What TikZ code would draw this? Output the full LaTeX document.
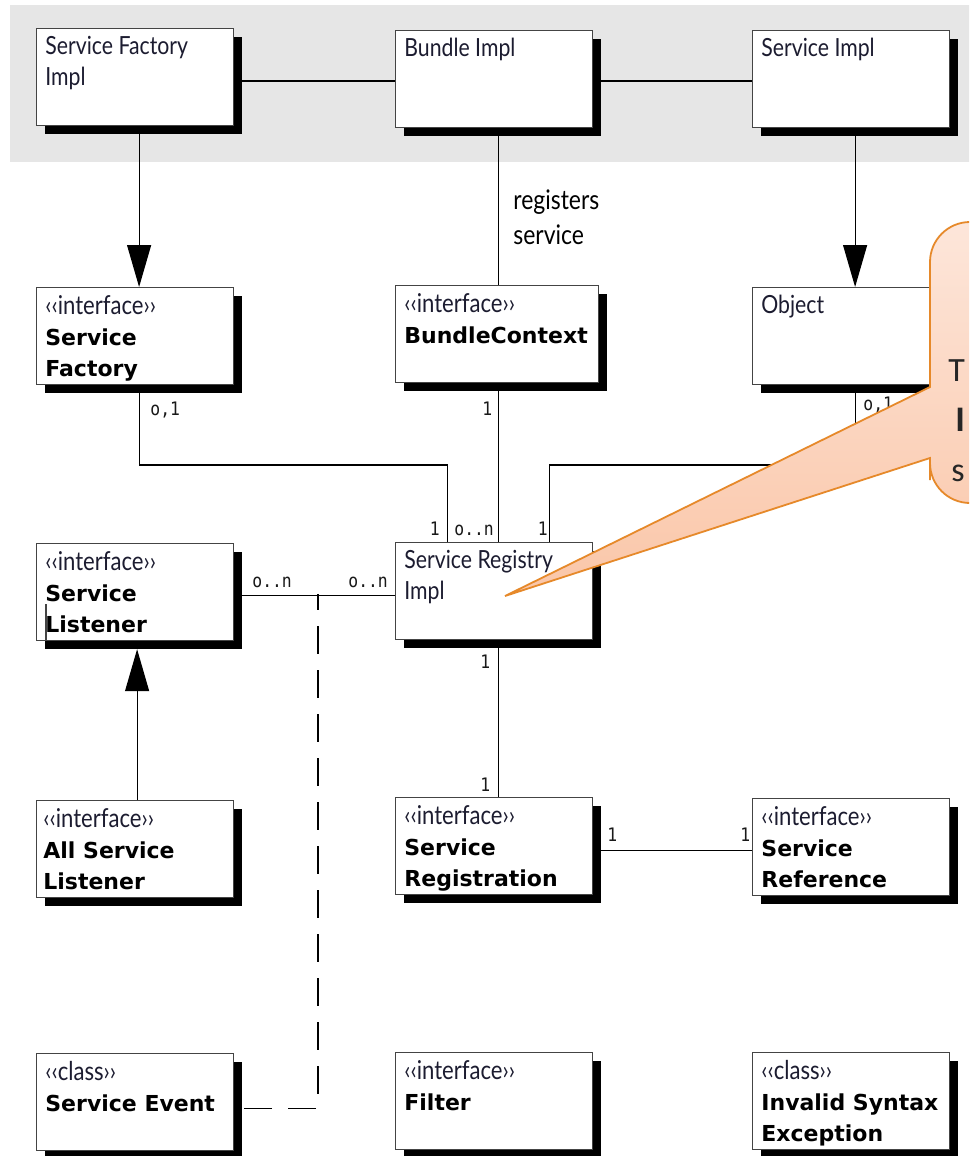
\documentclass[tikz,border=0pt]{standalone}
\usepackage{fontspec}
\setmainfont{Lato}[FakeStretch=0.85]
\newfontfamily\regf{Lato}[FakeStretch=0.85]
\newfontfamily\boldf{DejaVu Sans}
\newfontfamily\monof{DejaVu Sans Mono}[FakeStretch=0.88]
\newfontfamily\calf{Carlito}
\usetikzlibrary{arrows.meta,shadows,calc}
\definecolor{band}{HTML}{E6E6E6}
\definecolor{boxline}{HTML}{444444}
\definecolor{textblue}{HTML}{1C1C30}
\definecolor{calloutline}{HTML}{E6892A}
\definecolor{callouttop}{HTML}{FDE6DA}
\definecolor{calloutbot}{HTML}{FAC6A8}
\newcommand{\stereo}[1]{{\regf\fontsize{13}{15.5}\selectfont #1}}
\newcommand{\cname}[1]{{\color{black}\boldf\bfseries\fontsize{11}{15.5}\selectfont #1}}
\tikzset{
  umlbox/.style={draw=boxline, line width=0.6pt, fill=white, minimum width=98.5pt,
    minimum height=48.5pt, anchor=north west, inner sep=0pt,
    drop shadow={shadow xshift=4pt, shadow yshift=-4pt, opacity=1, fill=black}},
  boxtext/.style={anchor=north west, inner sep=0pt, align=left, text=textblue,
    font=\regf\fontsize{12.5}{15.5}\selectfont},
  conn/.style={draw=black, line width=0.6pt},
  inh/.style={conn, -{Triangle[length=21pt,width=12pt]}},
  mult/.style={inner sep=0pt, font=\monof\fontsize{9.3}{10}\selectfont, text=black!90},
  calltext/.style={anchor=base west, inner sep=0pt, font=\calf\fontsize{17}{20}\selectfont, text=black!85},
}
\begin{document}
\begin{tikzpicture}[x=0.5pt,y=-0.5pt]
\useasboundingbox (0,0) rectangle (969,1156);
\clip (0,0) rectangle (969,1156);
\fill[white] (0,0) rectangle (969,1156);
\fill[band] (10,5) rectangle (975,162);

% boxes
\node[umlbox] (sfi) at (36,28) {};
\node[umlbox] (bi) at (395,30) {};
\node[umlbox] (si) at (752,30) {};
\node[umlbox] (sf) at (36,287) {};
\node[umlbox, minimum width=101.5pt] (bc) at (395,285) {};
\node[umlbox] (obj) at (752,287) {};
\node[umlbox] (sl) at (36,543) {};
\node[umlbox] (sri) at (395,542) {};
\node[umlbox] (asl) at (36,800) {};
\node[umlbox] (sreg) at (395,797) {};
\node[umlbox] (sref) at (752,798) {};
\node[umlbox] (se) at (36,1053) {};
\node[umlbox] (flt) at (395,1052) {};
\node[umlbox] (ise) at (752,1052) {};

% box texts
\node[boxtext] (sfi-t) at ([xshift=4.5pt,yshift=-4pt]sfi.north west) {Service Factory\\Impl};
\node[boxtext] (bi-t) at ([xshift=4.5pt,yshift=-4pt]bi.north west) {Bundle Impl};
\node[boxtext] (si-t) at ([xshift=4.5pt,yshift=-4pt]si.north west) {Service Impl};
\node[boxtext] (sf-t) at ([xshift=4.5pt,yshift=-4pt]sf.north west) {\stereo{‹‹interface››}\\\cname{Service}\\\cname{Factory}};
\node[boxtext] (bc-t) at ([xshift=4.5pt,yshift=-4pt]bc.north west) {\stereo{‹‹interface››}\\\cname{BundleContext}};
\node[boxtext] (obj-t) at ([xshift=4.5pt,yshift=-4pt]obj.north west) {Object};
\node[boxtext] (sl-t) at ([xshift=4.5pt,yshift=-4pt]sl.north west) {\stereo{‹‹interface››}\\\cname{Service}\\\cname{Listener}};
\draw[boxline, line width=0.6pt] (46,604) -- (46,640);
\node[boxtext] (sri-t) at ([xshift=4.5pt,yshift=-4pt]sri.north west) {Service Registry\\Impl};
\node[boxtext] (asl-t) at ([xshift=3.5pt,yshift=-4pt]asl.north west) {\stereo{‹‹interface››}\\\cname{All Service}\\\cname{Listener}};
\node[boxtext] (sreg-t) at ([xshift=4.5pt,yshift=-4pt]sreg.north west) {\stereo{‹‹interface››}\\\cname{Service}\\\cname{Registration}};
\node[boxtext] (sref-t) at ([xshift=4.5pt,yshift=-4pt]sref.north west) {\stereo{‹‹interface››}\\\cname{Service}\\\cname{Reference}};
\node[boxtext] (se-t) at ([xshift=4.5pt,yshift=-4pt]se.north west) {\stereo{‹‹class››}\\\cname{Service Event}};
\node[boxtext] (flt-t) at ([xshift=4.5pt,yshift=-4pt]flt.north west) {\stereo{‹‹interface››}\\\cname{Filter}};
\node[boxtext] (ise-t) at ([xshift=4.5pt,yshift=-4pt]ise.north west) {\stereo{‹‹class››}\\\cname{Invalid Syntax}\\\cname{Exception}};

% connectors in the band
\draw[conn] ([yshift=-2pt]sfi.east) -- ([yshift=-2pt]sfi.east -| bi.west);
\draw[conn] ([yshift=-1pt]bi.east) -- ([yshift=-1pt]bi.east -| si.west);
\draw[inh] ([xshift=2pt]sfi.south) -- ([xshift=2pt]sf.north);
\draw[conn] ([xshift=2pt]bi.south) -- ([xshift=2pt]bi.south |- bc.north);
\draw[inh] ([xshift=2pt]si.south) -- ([xshift=2pt]obj.north);
\node[boxtext, text=black, font=\regf\fontsize{13.5}{17.5}\selectfont] (regs) at (513,189) {registers\\service};

% to the registry
\draw[conn] ([xshift=2pt]sf.south) -- ([xshift=2pt]sf.south |- 0,465) -| ([xshift=-23.5pt]sri.north);
\draw[conn] ([xshift=2pt]bi.south |- bc.south) -- ([xshift=2pt]bi.south |- sri.north);
\draw[conn] ([xshift=2pt]obj.south) -- ([xshift=2pt]obj.south |- 0,465) -| ([xshift=27.5pt]sri.north);
\draw[conn] ([yshift=-1.5pt]sl.east) -- ([yshift=-1.5pt]sl.east -| sri.west);
\coordinate (jn) at (318,594);
\draw[conn, dash pattern=on 14pt off 8pt, dash phase=6pt] (jn) |- ([yshift=-3pt,xshift=-3pt]se.east);
\draw[inh] ([xshift=1pt]asl.north) -- ([xshift=1pt,yshift=-4pt]sl.south);
\draw[conn] ([xshift=2pt]sri.south) -- ([xshift=2pt]sri.south |- sreg.north);
\draw[conn] ([yshift=-2pt]sreg.east) -- ([yshift=-2pt]sreg.east -| sref.west);

% multiplicities
\node[mult, anchor=base west] (m1) at (150,415) {o,1};
\node[mult, anchor=base west] (m2) at (482,415) {1};
\node[mult, anchor=base west] (m3) at (863,410) {o,1};
\node[mult, anchor=base east] (m4) at (440,535) {1};
\node[mult, anchor=base west] (m5) at (454,535) {o..n};
\node[mult, anchor=base east] (m6) at (548,535) {1};
\node[mult, anchor=base west] (m7) at (252,587) {o..n};
\node[mult, anchor=base west] (m8) at (348,587) {o..n};
\node[mult, anchor=base west] (m9) at (480,668) {1};
\node[mult, anchor=base west] (m10) at (480,791) {1};
\node[mult, anchor=base west] (m11) at (607,841) {1};
\node[mult, anchor=base west] (m12) at (740,841) {1};

% callout
\path[draw=calloutline, line width=0.9pt, top color=callouttop, bottom color=calloutbot]
  (505,596) -- (930,387) -- (930,370) [rounded corners=20pt] -- (930,222) -- (1030,222)
  -- (1030,503) -- (930,503) [sharp corners] -- (930,480) -- (930,458) -- cycle;
\node[calltext] (c1) at (948,381) {T};
\node[calltext, font=\calf\bfseries\fontsize{18}{20}\selectfont] (c2) at (955,431) {I};
\node[calltext] (c3) at (951,481) {s};
\end{tikzpicture}
\end{document}
